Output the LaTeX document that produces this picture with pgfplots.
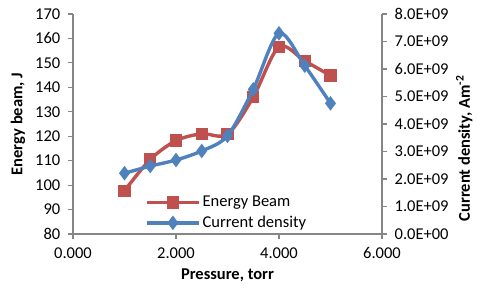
\documentclass[border=0pt]{standalone}
\usepackage{pgfplots}
\pgfplotsset{compat=1.18}
\usepackage{fontspec}
\setmainfont{Carlito}
\definecolor{eb}{RGB}{192,80,77}
\definecolor{cd}{RGB}{79,129,189}
\definecolor{ax}{RGB}{134,134,134}
\begin{document}
\fontsize{16.5}{19}\selectfont
\begin{tikzpicture}
\useasboundingbox (-73pt,-53pt) rectangle (404pt,234pt);
\pgfplotsset{
  common/.style={
    scale only axis, width=309pt, height=220pt,
    xmin=0, xmax=6,
    axis line style={ax, line width=1.1pt},
    major tick style={ax, line width=1.1pt},
    tick align=outside, major tick length=5pt,
    tick label style={font=\fontsize{16.5}{19}\selectfont},
    label style={font=\fontsize{16.5}{19}\selectfont\bfseries},
    clip=false,
  }
}
\begin{axis}[common,
  axis x line*=bottom, axis y line*=left,
  ymin=80, ymax=170,
  ytick={80,90,...,170},
  yticklabels={80,90,100,110,120,130,140,150,160,170},
  xtick={0,2,4,6},
  xticklabels={0.000,2.000,4.000,6.000},
  xticklabel style={yshift=-3pt},
  yticklabel style={xshift=-2pt},
  xlabel={Pressure, torr},
  ylabel={Energy beam, J},
  xlabel style={at={(axis description cs:0.5,-0.186)}, anchor=center},
  ylabel style={at={(axis description cs:-0.178,0.5)}, anchor=center},
]
\addplot[eb, line width=3.4pt, smooth, mark=square*, mark size=4.5pt, mark options={solid}] coordinates {
(1,97.7) (1.5,110.5) (2,118.2) (2.5,121) (3,120.8) (3.5,136) (4,156.6) (4.5,150.8) (5,144.8)};
\end{axis}
\begin{axis}[common,
  axis x line=none, axis y line*=right,
  ymin=0, ymax=8e9,
  ytick={0,1e9,2e9,3e9,4e9,5e9,6e9,7e9,8e9},
  yticklabels={0.0E+00,1.0E+09,2.0E+09,3.0E+09,4.0E+09,5.0E+09,6.0E+09,7.0E+09,8.0E+09},
  yticklabel style={xshift=2pt},
  scaled y ticks=false,
  ylabel={Current density, Am\textsuperscript{-2}},
  ylabel style={at={(axis description cs:1.266,0.39)}, anchor=center},
  legend style={draw=none, fill=none, at={(0.233,0.0)}, anchor=south west,
    font=\fontsize{16.5}{19}\selectfont, row sep=3pt, inner sep=0pt, yshift=2pt},
  legend cell align=left,
  legend image code/.code={\draw[#1, mark repeat=2, mark phase=2] plot coordinates {(0pt,0pt) (26pt,0pt) (52pt,0pt)};},
]
\addlegendimage{eb, line width=3.4pt, mark=square*, mark size=4.5pt}
\addlegendentry{Energy Beam}
\addplot[cd, line width=3.4pt, smooth, mark=diamond*, mark size=4.5pt] coordinates {
(1,2.21e9) (1.5,2.47e9) (2,2.69e9) (2.5,3.02e9) (3,3.57e9) (3.5,5.26e9) (4,7.30e9) (4.5,6.12e9) (5,4.75e9)};
\addlegendentry{Current density}
\end{axis}
\end{tikzpicture}
\end{document}
